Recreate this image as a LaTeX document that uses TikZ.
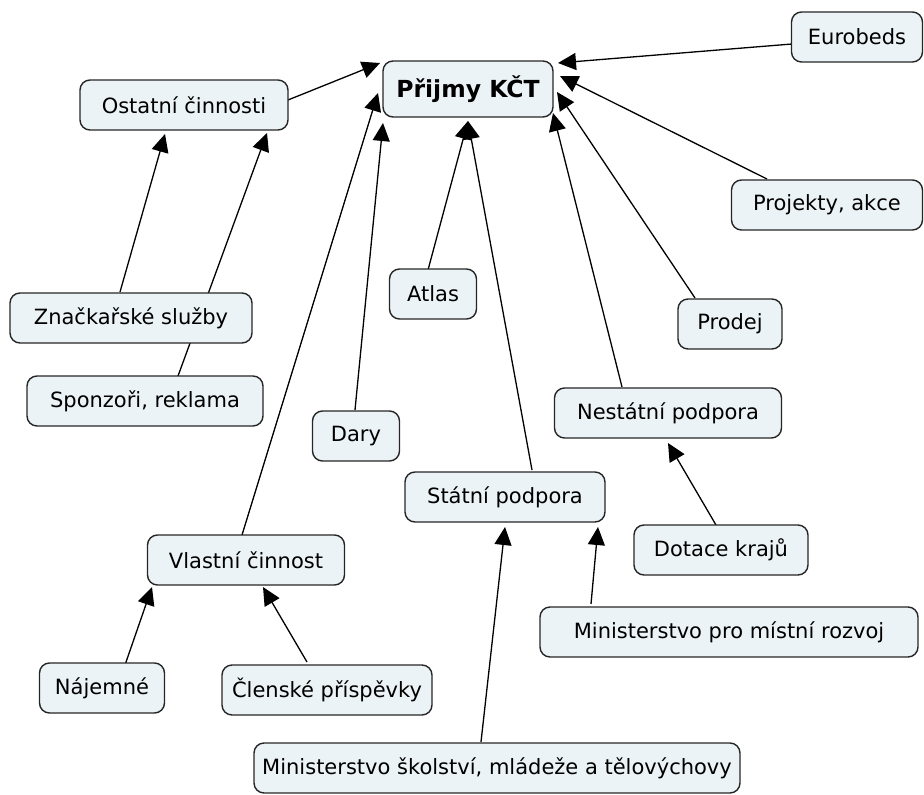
\documentclass[tikz,border=0pt]{standalone}
\usepackage{fontspec}
\setmainfont{DejaVu Sans}
\usepackage{tikz}
\usetikzlibrary{arrows.meta}
\usetikzlibrary{calc,backgrounds}
\definecolor{boxfill}{RGB}{236,243,246}
\tikzstyle{concept}=[rectangle,rounded corners=10pt,fill=boxfill,draw=black!85,line width=1.4pt,minimum height=50pt,inner sep=0pt,font=\fontsize{21}{25}\selectfont]
\tikzstyle{edge} = [draw,line width=1.3pt,-{Triangle[length=18pt,width=17pt]}]

\begin{document}
\begin{tikzpicture}[x=1pt,y=-1pt]
\useasboundingbox (0,0) rectangle (924,795);

    % main concept
    \node[concept,minimum width=170pt,minimum height=56pt,font=\fontsize{23.5}{28}\selectfont\bfseries] (prijmy) at (468,89) {Přijmy KČT};

    \foreach \pos/\name/\w/\txt in {{(857,37)/eurobeds/131/Eurobeds}, {(184,105)/ostatni/208/Ostatní činnosti},
        {(827,205)/projekty/191/{Projekty, akce}}, {(433,294)/atlas/87/Atlas}, {(730,324)/prodej/104/Prodej},
        {(131,318)/znackar/242/Značkařské služby}, {(145,401)/sponzori/236/{Sponzoři, reklama}},
        {(356,436)/dary/87/Dary}, {(668,413)/nestatni/227/Nestátní podpora}, {(505,497)/statni/200/Státní podpora},
        {(246,560)/vlastni/197/Vlastní činnost}, {(721,550)/dotace/174/Dotace krajů},
        {(729,632)/mmr/378/Ministerstvo pro místní rozvoj}, {(102,688)/najemne/125/Nájemné},
        {(327,690)/clenske/210/Členské příspěvky}, {(497,768)/msmt/486/{Ministerstvo školství, mládeže a tělovýchovy}}}
        \node[concept,minimum width=\w pt] (\name) at \pos {\txt};

    % links, drawn behind the boxes
    \begin{pgfonlayer}{background}
    \foreach \source/\fromx/\fromy/\dest/\tox/\toy in {eurobeds/-65/7/prijmy/90/-26, projekty/-60/-26/prijmy/92/-13,
        prodej/-35/-26/prijmy/89/3, nestatni/-46/-26/prijmy/85/24, statni/27/-27/prijmy/0/32, atlas/-5/-24/prijmy/0/32,
        dary/-1/-26/prijmy/-85/34, vlastni/-4/-25/prijmy/-90/4, ostatni/104/-5/prijmy/-88/-26,
        znackar/-11/-26/ostatni/-19/29, sponzori/33/-25/ostatni/83/28,
        najemne/23/-23/vlastni/-94/27, clenske/-20/-28/vlastni/17/27,
        dotace/-5/-25/nestatni/0/30, mmr/-138/-28/statni/93/30, msmt/-16/-26/statni/0/30}
        \path[edge] ($(\source)+(\fromx,\fromy)$) -- ($(\dest)+(\tox,\toy)$);
    \end{pgfonlayer}

\end{tikzpicture}
\end{document}
